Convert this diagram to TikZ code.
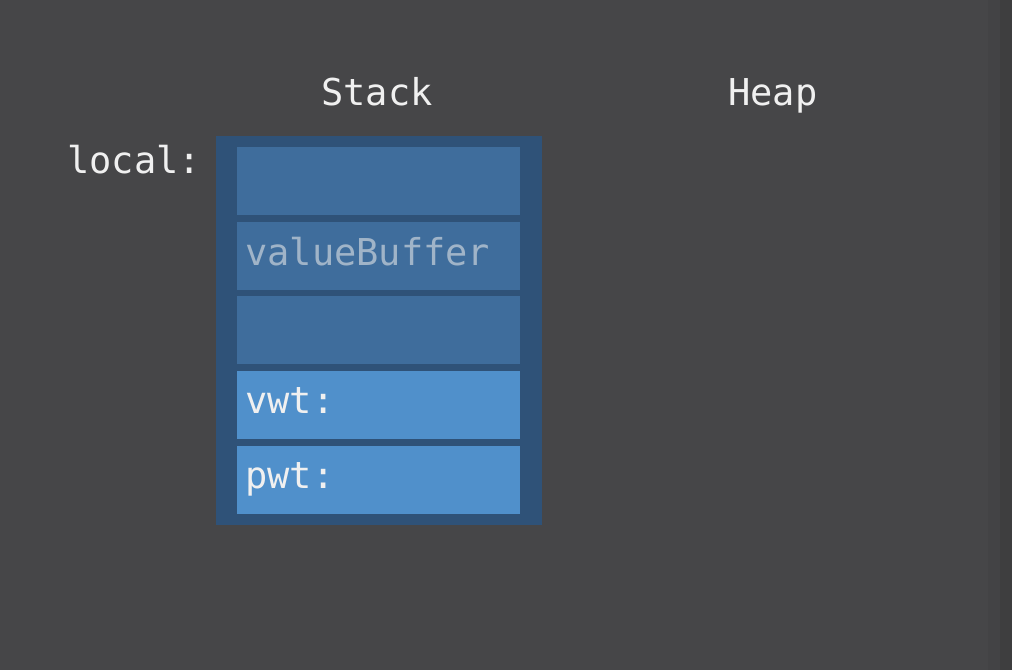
\documentclass[tikz,border=0pt]{standalone}
\usepackage{fontspec}
\setmonofont{DejaVu Sans Mono}
\usepackage{tikz}

\definecolor{bgcol}{HTML}{464648}
\definecolor{edgecol}{HTML}{434345}
\definecolor{stackcol}{HTML}{2F5278}
\definecolor{slotcol}{HTML}{3F6D9C}
\definecolor{witcol}{HTML}{5090CB}
\definecolor{dimtext}{HTML}{A0B4C8}

\tikzset{
  txt/.style={font=\ttfamily\fontsize{37}{40}\selectfont, text=white!94!black, inner sep=0pt, anchor=base west},
  slot/.style={fill=slotcol, draw=none, minimum width=283pt, minimum height=68pt, inner sep=0pt, anchor=north west},
  witslot/.style={slot, fill=witcol}
}

\begin{document}
\begin{tikzpicture}[x=1pt,y=-1pt]
  \fill[bgcol] (0,0) rectangle (1012,670);
  \fill[edgecol] (988,0) rectangle (1012,670); %darker right edge
  \fill[edgecol!92!black] (1000,0) rectangle (1012,670);
  \useasboundingbox (0,0) rectangle (1012,670);

  \node[txt] (stack) at (321,105) {Stack};
  \node[txt] (heap) at (728,105) {Heap};
  \node[txt] (local) at (67,173) {local:};

  \fill[stackcol] (216,136) rectangle (542,525);

  \foreach \n in {0,1,2} {
    \node[slot] (buf\n) at (237,{147+74.5*\n}) {};
  }
  \node[witslot] (vwt) at (237,371) {};
  \node[witslot] (pwt) at (237,446) {};

  \node[txt, text=dimtext] (buflabel) at (245,265) {valueBuffer};
  \node[txt] (vwtlabel) at (245,413) {vwt:};
  \node[txt] (pwtlabel) at (245,488) {pwt:};
\end{tikzpicture}
\end{document}
